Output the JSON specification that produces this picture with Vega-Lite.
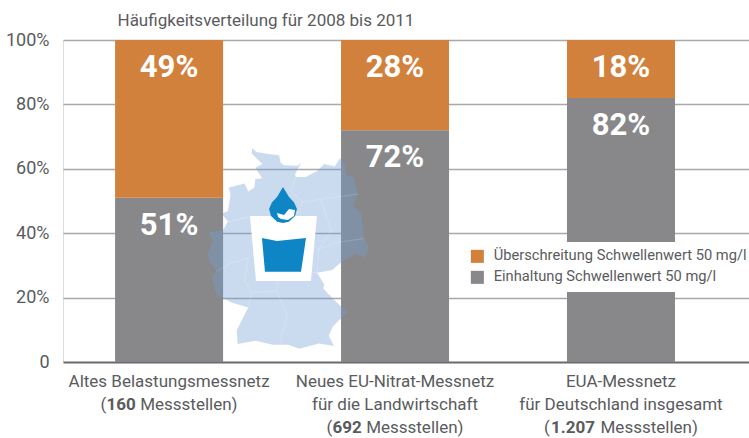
{"$schema":"https://vega.github.io/schema/vega-lite/v6.json","width":686,"height":322,"autosize":{"type":"none"},"padding":{"left":63,"top":40,"right":0,"bottom":76},"background":"white",
"datasets":{"bars":[
{"cat":"Altes Belastungsmessnetz","series":"Einhaltung Schwellenwert 50 mg/l","value":51,"label":"51%"},
{"cat":"Altes Belastungsmessnetz","series":"Überschreitung Schwellenwert 50 mg/l","value":49,"label":"49%"},
{"cat":"Neues EU-Nitrat-Messnetz","series":"Einhaltung Schwellenwert 50 mg/l","value":72,"label":"72%"},
{"cat":"Neues EU-Nitrat-Messnetz","series":"Überschreitung Schwellenwert 50 mg/l","value":28,"label":"28%"},
{"cat":"EUA-Messnetz","series":"Einhaltung Schwellenwert 50 mg/l","value":82,"label":"82%"},
{"cat":"EUA-Messnetz","series":"Überschreitung Schwellenwert 50 mg/l","value":18,"label":"18%"}],
"map":[
{"i":1,"shape":"land","lon":8.42,"lat":55.06},{"i":2,"shape":"land","lon":8.66,"lat":54.91},{"i":3,"shape":"land","lon":9.44,"lat":54.82},{"i":4,"shape":"land","lon":9.95,"lat":54.78},{"i":5,"shape":"land","lon":10.03,"lat":54.5},{"i":6,"shape":"land","lon":10.2,"lat":54.4},{"i":7,"shape":"land","lon":11.0,"lat":54.38},{"i":8,"shape":"land","lon":11.2,"lat":54.5},{"i":9,"shape":"land","lon":10.85,"lat":54.05},{"i":10,"shape":"land","lon":10.9,"lat":53.95},{"i":11,"shape":"land","lon":11.45,"lat":53.95},{"i":12,"shape":"land","lon":12.1,"lat":54.18},{"i":13,"shape":"land","lon":12.5,"lat":54.45},{"i":14,"shape":"land","lon":13.1,"lat":54.35},{"i":15,"shape":"land","lon":13.4,"lat":54.68},{"i":16,"shape":"land","lon":13.7,"lat":54.4},{"i":17,"shape":"land","lon":13.75,"lat":54.05},{"i":18,"shape":"land","lon":14.2,"lat":53.92},{"i":19,"shape":"land","lon":14.27,"lat":53.7},{"i":20,"shape":"land","lon":14.4,"lat":53.25},{"i":21,"shape":"land","lon":14.13,"lat":52.85},{"i":22,"shape":"land","lon":14.6,"lat":52.55},{"i":23,"shape":"land","lon":14.7,"lat":52.1},{"i":24,"shape":"land","lon":14.75,"lat":51.6},{"i":25,"shape":"land","lon":15.03,"lat":51.25},{"i":26,"shape":"land","lon":14.82,"lat":50.87},{"i":27,"shape":"land","lon":14.3,"lat":51.03},{"i":28,"shape":"land","lon":13.5,"lat":50.72},{"i":29,"shape":"land","lon":12.95,"lat":50.4},{"i":30,"shape":"land","lon":12.1,"lat":50.3},{"i":31,"shape":"land","lon":12.5,"lat":49.85},{"i":32,"shape":"land","lon":12.45,"lat":49.7},{"i":33,"shape":"land","lon":13.0,"lat":49.3},{"i":34,"shape":"land","lon":13.83,"lat":48.77},{"i":35,"shape":"land","lon":13.45,"lat":48.55},{"i":36,"shape":"land","lon":13.0,"lat":48.25},{"i":37,"shape":"land","lon":12.76,"lat":47.9},{"i":38,"shape":"land","lon":13.05,"lat":47.5},{"i":39,"shape":"land","lon":12.2,"lat":47.6},{"i":40,"shape":"land","lon":11.1,"lat":47.4},{"i":41,"shape":"land","lon":10.45,"lat":47.55},{"i":42,"shape":"land","lon":9.6,"lat":47.55},{"i":43,"shape":"land","lon":8.6,"lat":47.7},{"i":44,"shape":"land","lon":7.6,"lat":47.58},{"i":45,"shape":"land","lon":7.55,"lat":48.1},{"i":46,"shape":"land","lon":8.2,"lat":48.97},{"i":47,"shape":"land","lon":7.3,"lat":49.15},{"i":48,"shape":"land","lon":6.4,"lat":49.45},{"i":49,"shape":"land","lon":6.13,"lat":50.13},{"i":50,"shape":"land","lon":6.4,"lat":50.35},{"i":51,"shape":"land","lon":6.0,"lat":50.75},{"i":52,"shape":"land","lon":5.9,"lat":51.05},{"i":53,"shape":"land","lon":6.2,"lat":51.5},{"i":54,"shape":"land","lon":5.95,"lat":51.83},{"i":55,"shape":"land","lon":6.8,"lat":51.95},{"i":56,"shape":"land","lon":7.05,"lat":52.25},{"i":57,"shape":"land","lon":6.7,"lat":52.55},{"i":58,"shape":"land","lon":7.05,"lat":52.65},{"i":59,"shape":"land","lon":7.2,"lat":53.25},{"i":60,"shape":"land","lon":7.1,"lat":53.55},{"i":61,"shape":"land","lon":8.0,"lat":53.7},{"i":62,"shape":"land","lon":8.2,"lat":53.4},{"i":63,"shape":"land","lon":8.55,"lat":53.55},{"i":64,"shape":"land","lon":8.6,"lat":53.87},{"i":65,"shape":"land","lon":9.0,"lat":53.9},{"i":66,"shape":"land","lon":8.85,"lat":54.05},{"i":67,"shape":"land","lon":8.6,"lat":54.3},{"i":68,"shape":"land","lon":9.0,"lat":54.45},{"i":69,"shape":"land","lon":8.4,"lat":54.85},
{"i":1,"shape":"glass","lon":8.30,"lat":52.46},{"i":2,"shape":"glass","lon":12.09,"lat":52.46},{"i":3,"shape":"glass","lon":11.75,"lat":49.98},{"i":4,"shape":"glass","lon":8.64,"lat":49.98},
{"i":1,"shape":"water","lon":8.98,"lat":51.62},{"i":2,"shape":"water","lon":9.83,"lat":51.51},{"i":3,"shape":"water","lon":11.47,"lat":51.62},{"i":4,"shape":"water","lon":11.19,"lat":50.33},{"i":5,"shape":"water","lon":9.15,"lat":50.33},
{"i":1,"shape":"drop","lon":10.17,"lat":53.57},{"i":2,"shape":"drop","lon":10.5,"lat":53.2},{"i":3,"shape":"drop","lon":10.8,"lat":52.98},{"i":4,"shape":"drop","lon":10.96,"lat":52.73},{"i":5,"shape":"drop","lon":10.85,"lat":52.46},{"i":6,"shape":"drop","lon":10.5,"lat":52.24},{"i":7,"shape":"drop","lon":10.17,"lat":52.2},{"i":8,"shape":"drop","lon":9.84,"lat":52.24},{"i":9,"shape":"drop","lon":9.49,"lat":52.46},{"i":10,"shape":"drop","lon":9.38,"lat":52.73},{"i":11,"shape":"drop","lon":9.54,"lat":52.98},{"i":12,"shape":"drop","lon":9.84,"lat":53.2},
{"i":1,"shape":"shine","lon":9.83,"lat":52.58},{"i":2,"shape":"shine","lon":10.23,"lat":52.50},{"i":3,"shape":"shine","lon":10.51,"lat":52.73},{"i":4,"shape":"shine","lon":10.85,"lat":52.69},{"i":5,"shape":"shine","lon":10.79,"lat":52.46},{"i":6,"shape":"shine","lon":10.45,"lat":52.31},{"i":7,"shape":"shine","lon":10.06,"lat":52.35},{"i":8,"shape":"shine","lon":9.89,"lat":52.42},
{"i":1,"shape":"b1","lon":7.05,"lat":52.25},{"i":2,"shape":"b1","lon":8.4,"lat":52.45},{"i":3,"shape":"b1","lon":9.4,"lat":51.9},{"i":4,"shape":"b1","lon":9.15,"lat":51.45},{"i":5,"shape":"b1","lon":8.2,"lat":50.85},{"i":6,"shape":"b1","lon":7.2,"lat":50.65},{"i":7,"shape":"b1","lon":6.4,"lat":50.35},
{"i":1,"shape":"b2","lon":8.2,"lat":50.85},{"i":2,"shape":"b2","lon":8.0,"lat":50.0},{"i":3,"shape":"b2","lon":8.4,"lat":49.55},{"i":4,"shape":"b2","lon":8.2,"lat":48.97},
{"i":1,"shape":"b3","lon":8.4,"lat":49.55},{"i":2,"shape":"b3","lon":9.8,"lat":49.6},{"i":3,"shape":"b3","lon":10.4,"lat":48.7},{"i":4,"shape":"b3","lon":10.0,"lat":47.6},
{"i":1,"shape":"b4","lon":9.15,"lat":51.45},{"i":2,"shape":"b4","lon":10.2,"lat":51.0},{"i":3,"shape":"b4","lon":10.0,"lat":50.5},{"i":4,"shape":"b4","lon":9.8,"lat":49.6},
{"i":1,"shape":"b5","lon":10.0,"lat":50.5},{"i":2,"shape":"b5","lon":11.2,"lat":50.35},{"i":3,"shape":"b5","lon":12.1,"lat":50.3},{"i":4,"shape":"b5","lon":12.2,"lat":51.2},{"i":5,"shape":"b5","lon":10.6,"lat":51.9},{"i":6,"shape":"b5","lon":10.2,"lat":51.0},
{"i":1,"shape":"b6","lon":12.2,"lat":51.2},{"i":2,"shape":"b6","lon":13.2,"lat":51.45},{"i":3,"shape":"b6","lon":14.75,"lat":51.6},
{"i":1,"shape":"b7","lon":9.4,"lat":51.9},{"i":2,"shape":"b7","lon":10.6,"lat":51.9},{"i":3,"shape":"b7","lon":11.3,"lat":53.0},{"i":4,"shape":"b7","lon":12.3,"lat":53.1},{"i":5,"shape":"b7","lon":14.4,"lat":53.3},
{"i":1,"shape":"b8","lon":11.3,"lat":53.0},{"i":2,"shape":"b8","lon":10.6,"lat":53.4},{"i":3,"shape":"b8","lon":10.9,"lat":53.95},
{"i":1,"shape":"b9","lon":12.2,"lat":51.2},{"i":2,"shape":"b9","lon":12.9,"lat":51.9},{"i":3,"shape":"b9","lon":12.3,"lat":53.1}
]},
"resolve":{"scale":{"x":"independent","y":"independent"}},
"layer":[
{"data":{"name":"bars"},"mark":{"type":"bar","size":108},
"encoding":{
"x":{"field":"cat","type":"nominal","sort":null,"title":null,"scale":{"paddingInner":0.522,"paddingOuter":0.279,"align":0.413},
"axis":{"orient":"bottom","domain":false,"ticks":false,"labelAngle":0,"labelAlign":"center","labelLimit":0,"labelFont":"Roboto","labelFontSize":17,"labelColor":"#5a5b5d","labelPadding":11,"labelLineHeight":23,"labelExpr":"datum.label=='Altes Belastungsmessnetz'?['Altes Belastungsmessnetz','(\u00a0\u00a0\u00a0\u00a0\u00a0\u00a0\u00a0 Messstellen)']:datum.label=='Neues EU-Nitrat-Messnetz'?['Neues EU-Nitrat-Messnetz','für die Landwirtschaft','(\u00a0\u00a0\u00a0\u00a0\u00a0\u00a0\u00a0 Messstellen)']:['EUA-Messnetz','für Deutschland insgesamt','(\u00a0\u00a0\u00a0\u00a0\u00a0\u00a0\u00a0\u00a0\u00a0\u00a0\u00a0 Messstellen)']"}},
"y":{"field":"value","type":"quantitative","stack":"zero","title":null,"scale":{"domain":[0,100]},
"axis":{"domain":false,"ticks":false,"values":[0,20,40,60,80,100],"labelFont":"Roboto","labelFontSize":18,"labelColor":"#5a5b5d","labelPadding":14,"labelExpr":"datum.value==0?'0':datum.value+'%'","grid":true,"gridColor":{"condition":{"test":"datum.value==0","value":"#6a6a6a"},"value":"#a8a8a8"},"gridWidth":{"condition":{"test":"datum.value==0","value":2},"value":1.5}}},
"color":{"field":"series","type":"nominal","sort":["Überschreitung Schwellenwert 50 mg/l","Einhaltung Schwellenwert 50 mg/l"],"scale":{"domain":["Überschreitung Schwellenwert 50 mg/l","Einhaltung Schwellenwert 50 mg/l"],"range":["#d2813d","#88888a"]},
"legend":{"title":null,"orient":"none","legendX":400,"legendY":202,"zindex":1,"fillColor":"white","padding":7,"symbolType":"square","symbolSize":170,"symbolStrokeWidth":0,"labelFont":"Roboto","labelFontSize":14.7,"labelColor":"#5a5b5d","labelLimit":0,"rowPadding":5,"labelOffset":9}},
"order":{"field":"series","sort":"ascending"}}},
{"data":{"name":"bars"},"mark":{"type":"bar","size":108,"opacity":0},
"encoding":{
"x":{"field":"cat","type":"nominal","sort":null,"title":null,"scale":{"paddingInner":0.522,"paddingOuter":0.279,"align":0.413},
"axis":{"orient":"bottom","domain":false,"ticks":false,"labelAngle":0,"labelAlign":"center","labelLimit":0,"labelFont":"Roboto","labelFontWeight":"bold","labelFontSize":17,"labelColor":"#5a5b5d","labelPadding":57,"labelOffset":-48,"labelExpr":"datum.label=='Neues EU-Nitrat-Messnetz'?'692':datum.label=='EUA-Messnetz'?'1.207':''"}},
"y":{"field":"value","type":"quantitative","stack":"zero","title":null,"scale":{"domain":[0,100]},"axis":null}}},
{"data":{"name":"map"},
"encoding":{"x":{"field":"lon","type":"quantitative","scale":{"domain":[-2.28,36.54],"nice":false,"zero":false},
"axis":{"orient":"top","domain":false,"ticks":false,"labels":false,"grid":false,"title":"Häufigkeitsverteilung für 2008 bis 2011","titleFont":"Roboto","titleFontSize":17,"titleFontWeight":"normal","titleColor":"#5a5b5d","titleAnchor":"start","titleAlign":"left","titleBaseline":"middle","titleX":54,"titleY":-20}},
"y":{"field":"lat","type":"quantitative","scale":{"domain":[46.89,59.18],"nice":false,"zero":false},"axis":null},"order":{"field":"i"}},
"layer":[
{"transform":[{"filter":"datum.shape=='land'"}],"mark":{"type":"line","fill":"#729dd4","fillOpacity":0.37,"strokeWidth":0}},
{"transform":[{"filter":"indexof(datum.shape,'b')==0"}],"mark":{"type":"line","color":"white","strokeWidth":0.8,"opacity":0.22},"encoding":{"detail":{"field":"shape"}}},
{"transform":[{"filter":"datum.shape=='glass'"}],"mark":{"type":"line","fill":"white","strokeWidth":0}},
{"transform":[{"filter":"datum.shape=='water'"}],"mark":{"type":"line","fill":"#0e85c4","strokeWidth":0}},
{"transform":[{"filter":"datum.shape=='drop'"}],"mark":{"type":"line","fill":"#0e85c4","strokeWidth":0}},
{"transform":[{"filter":"datum.shape=='shine'"}],"mark":{"type":"line","fill":"white","strokeWidth":0}}
]},
{"data":{"name":"bars"},"mark":{"type":"text","color":"white","font":"Roboto","fontWeight":"bold","fontSize":31,"baseline":"middle","dy":28},
"encoding":{
"x":{"field":"cat","type":"nominal","sort":null,"title":null,"scale":{"type":"band","paddingInner":0.522,"paddingOuter":0.279,"align":0.413},
"axis":{"orient":"bottom","domain":false,"ticks":false,"labelAngle":0,"labelAlign":"center","labelLimit":0,"labelFont":"Roboto","labelFontWeight":"bold","labelFontSize":17,"labelColor":"#5a5b5d","labelPadding":34,"labelOffset":-48,"labelExpr":"datum.label=='Altes Belastungsmessnetz'?'160':''"}},
"y":{"field":"value","type":"quantitative","stack":"zero","title":null,"scale":{"domain":[0,100]},"axis":null},
"detail":{"field":"series"},
"order":{"field":"series","sort":"ascending"},
"text":{"field":"label","type":"nominal"}}}
]}
